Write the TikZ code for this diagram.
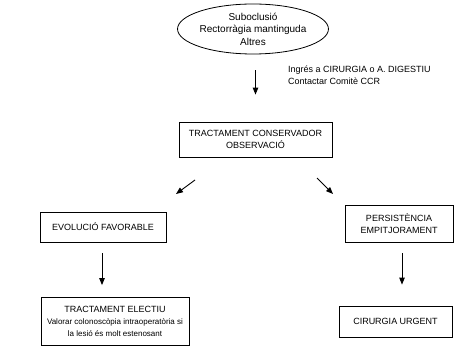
\documentclass[tikz,border=0pt]{standalone}
\usepackage{fontspec}
\setmainfont{Liberation Sans}
\usetikzlibrary{shapes.geometric,arrows.meta}
\tikzset{
  caixa/.style={draw, line width=0.8pt, inner sep=0pt, align=center,
    font=\fontsize{9}{12}\selectfont},
  fletxa/.style={line width=0.9pt, -{Triangle[width=5.5pt,length=7pt]}}
}

\begin{document}
\begin{tikzpicture}[x=1pt, y=-1pt]
\useasboundingbox (0,0) rectangle (455,347);

\node[caixa, ellipse, minimum width=135pt, minimum height=50pt,
  font=\fontsize{10}{12.5}\selectfont] (inici)
  at (253,29) {Suboclusió\\Rectorràgia mantinguda\\Altres};
\node[align=left, anchor=north west, inner sep=0pt,
  font=\fontsize{9}{11.5}\selectfont] (ingres) at (288,66)
  {Ingrés a CIRURGIA o A. DIGESTIU\\Contactar Comitè CCR};

\node[caixa, minimum width=153pt, minimum height=35pt] (conserv)
  at (255.5,139.5) {TRACTAMENT CONSERVADOR\\OBSERVACIÓ};

\node[caixa, minimum width=126pt, minimum height=30pt] (favor)
  at (103,227) {EVOLUCIÓ FAVORABLE};
\node[caixa, minimum width=108pt, minimum height=37pt] (persist)
  at (399,223.5) {PERSISTÈNCIA\\EMPITJORAMENT};

\node[caixa, minimum width=148pt, minimum height=48pt] (electiu)
  at (115,321.5) {TRACTAMENT ELECTIU\\{\fontsize{8}{12}\selectfont Valorar colonoscòpia intraoperatòria si}\\{\fontsize{8}{12}\selectfont la lesió és molt estenosant}};
\node[caixa, minimum width=113pt, minimum height=31pt] (urgent)
  at (395.5,321.5) {CIRURGIA URGENT};

% fletxes
\draw[fletxa, shorten <=16pt, shorten >=27pt] (conserv.north |- inici.south) -- (conserv.north);

\coordinate (esq1) at (195,180);
\coordinate (esq2) at (176,194);
\coordinate (dre1) at (317,178);
\coordinate (dre2) at (333,194);
\draw[fletxa] (esq1) -- (esq2);
\draw[fletxa] (dre1) -- (dre2);

\draw[fletxa, shorten <=11pt, shorten >=12pt] (favor.south -| 102,0) -- (electiu.north -| 102,0);
\draw[fletxa, shorten <=11pt, shorten >=21pt] (persist.south -| 402,0) -- (urgent.north -| 402,0);
\end{tikzpicture}
\end{document}
